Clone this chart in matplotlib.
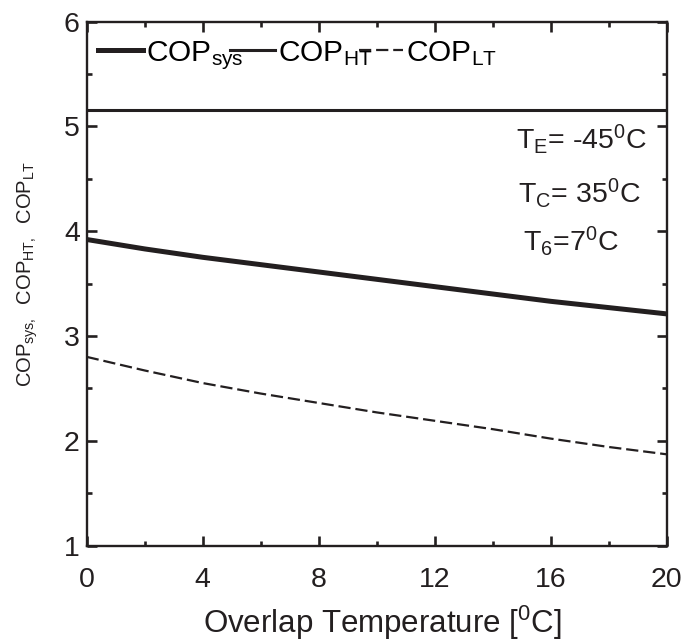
import numpy as np
import matplotlib
matplotlib.use("Agg")
import matplotlib.pyplot as plt
from matplotlib.ticker import MultipleLocator

plt.rcParams['font.family'] = ['Liberation Sans', 'DejaVu Sans']
plt.rcParams['mathtext.fontset'] = 'custom'
plt.rcParams['mathtext.rm'] = 'Liberation Sans'
plt.rcParams['mathtext.it'] = 'Liberation Sans'
plt.rcParams['mathtext.default'] = 'rm'

# datos
t_overlap = [0, 2, 4, 6, 8, 10, 12, 14, 16, 18, 20]
cop_sys = [3.92, 3.83, 3.75, 3.68, 3.61, 3.54, 3.47, 3.40, 3.33, 3.27, 3.21]
cop_ht = [5.16] * len(t_overlap)
cop_lt = [2.80, 2.67, 2.55, 2.45, 2.36, 2.27, 2.19, 2.11, 2.02, 1.94, 1.87]

negro = '#231f20'

fig = plt.figure(figsize=(6.91, 6.42), dpi=100)
ax = fig.add_axes([0.1255, 0.1503, 0.8395, 0.8162])

ax.plot(t_overlap, cop_sys, color=negro, lw=3.6, label='COP$_{sys}$')
ax.plot(t_overlap, cop_ht, color=negro, lw=2.2, label='COP$_{HT}$')
ax.plot(t_overlap, cop_lt, color=negro, lw=1.6, ls=(0, (5.5, 2.2)), label='COP$_{LT}$')

ax.set_xlim(0, 20)
ax.set_ylim(1, 6)
ax.xaxis.set_major_locator(MultipleLocator(4))
ax.xaxis.set_minor_locator(MultipleLocator(2))
ax.yaxis.set_major_locator(MultipleLocator(1))
ax.yaxis.set_minor_locator(MultipleLocator(0.5))
ax.tick_params(which='both', direction='in', top=True, right=True, labelsize=20.5, colors=negro, width=1.9)
ax.tick_params(which='major', length=7)
ax.tick_params(which='minor', length=3.8)
ax.tick_params(axis='x', which='major', pad=15.5)
ax.tick_params(axis='y', which='major', pad=5)
for s in ax.spines.values():
    s.set_linewidth(1.7)
    s.set_color(negro)

ax.set_xlabel('Overlap Temperature [$^{0}$C]', fontsize=22.5, color=negro)
ax.xaxis.set_label_coords(0.51, -0.112)
ax.set_ylabel('COP$_{sys,}$  COP$_{HT,}$  COP$_{LT}$', fontsize=14.5, color=negro)
ax.yaxis.set_label_coords(-0.08, 0.518)

ax.legend(loc='center left', bbox_to_anchor=(0.0195, 0.9357), ncol=3, frameon=False, fontsize=21.5,
          handlelength=1.5, handletextpad=0.1, columnspacing=-0.45, borderaxespad=0.0,
          borderpad=0.0)

ax.text(14.8, 4.788, 'T$_{E}$= -45$^{0}$C', fontsize=20.5, va='baseline', color=negro)
ax.text(14.87, 4.271, 'T$_{C}$= 35$^{0}$C', fontsize=20.5, va='baseline', color=negro)
ax.text(15.04, 3.811, 'T$_{6}$=7$^{0}$C', fontsize=20.5, va='baseline', color=negro)

fig.savefig('out.png', dpi=100)
